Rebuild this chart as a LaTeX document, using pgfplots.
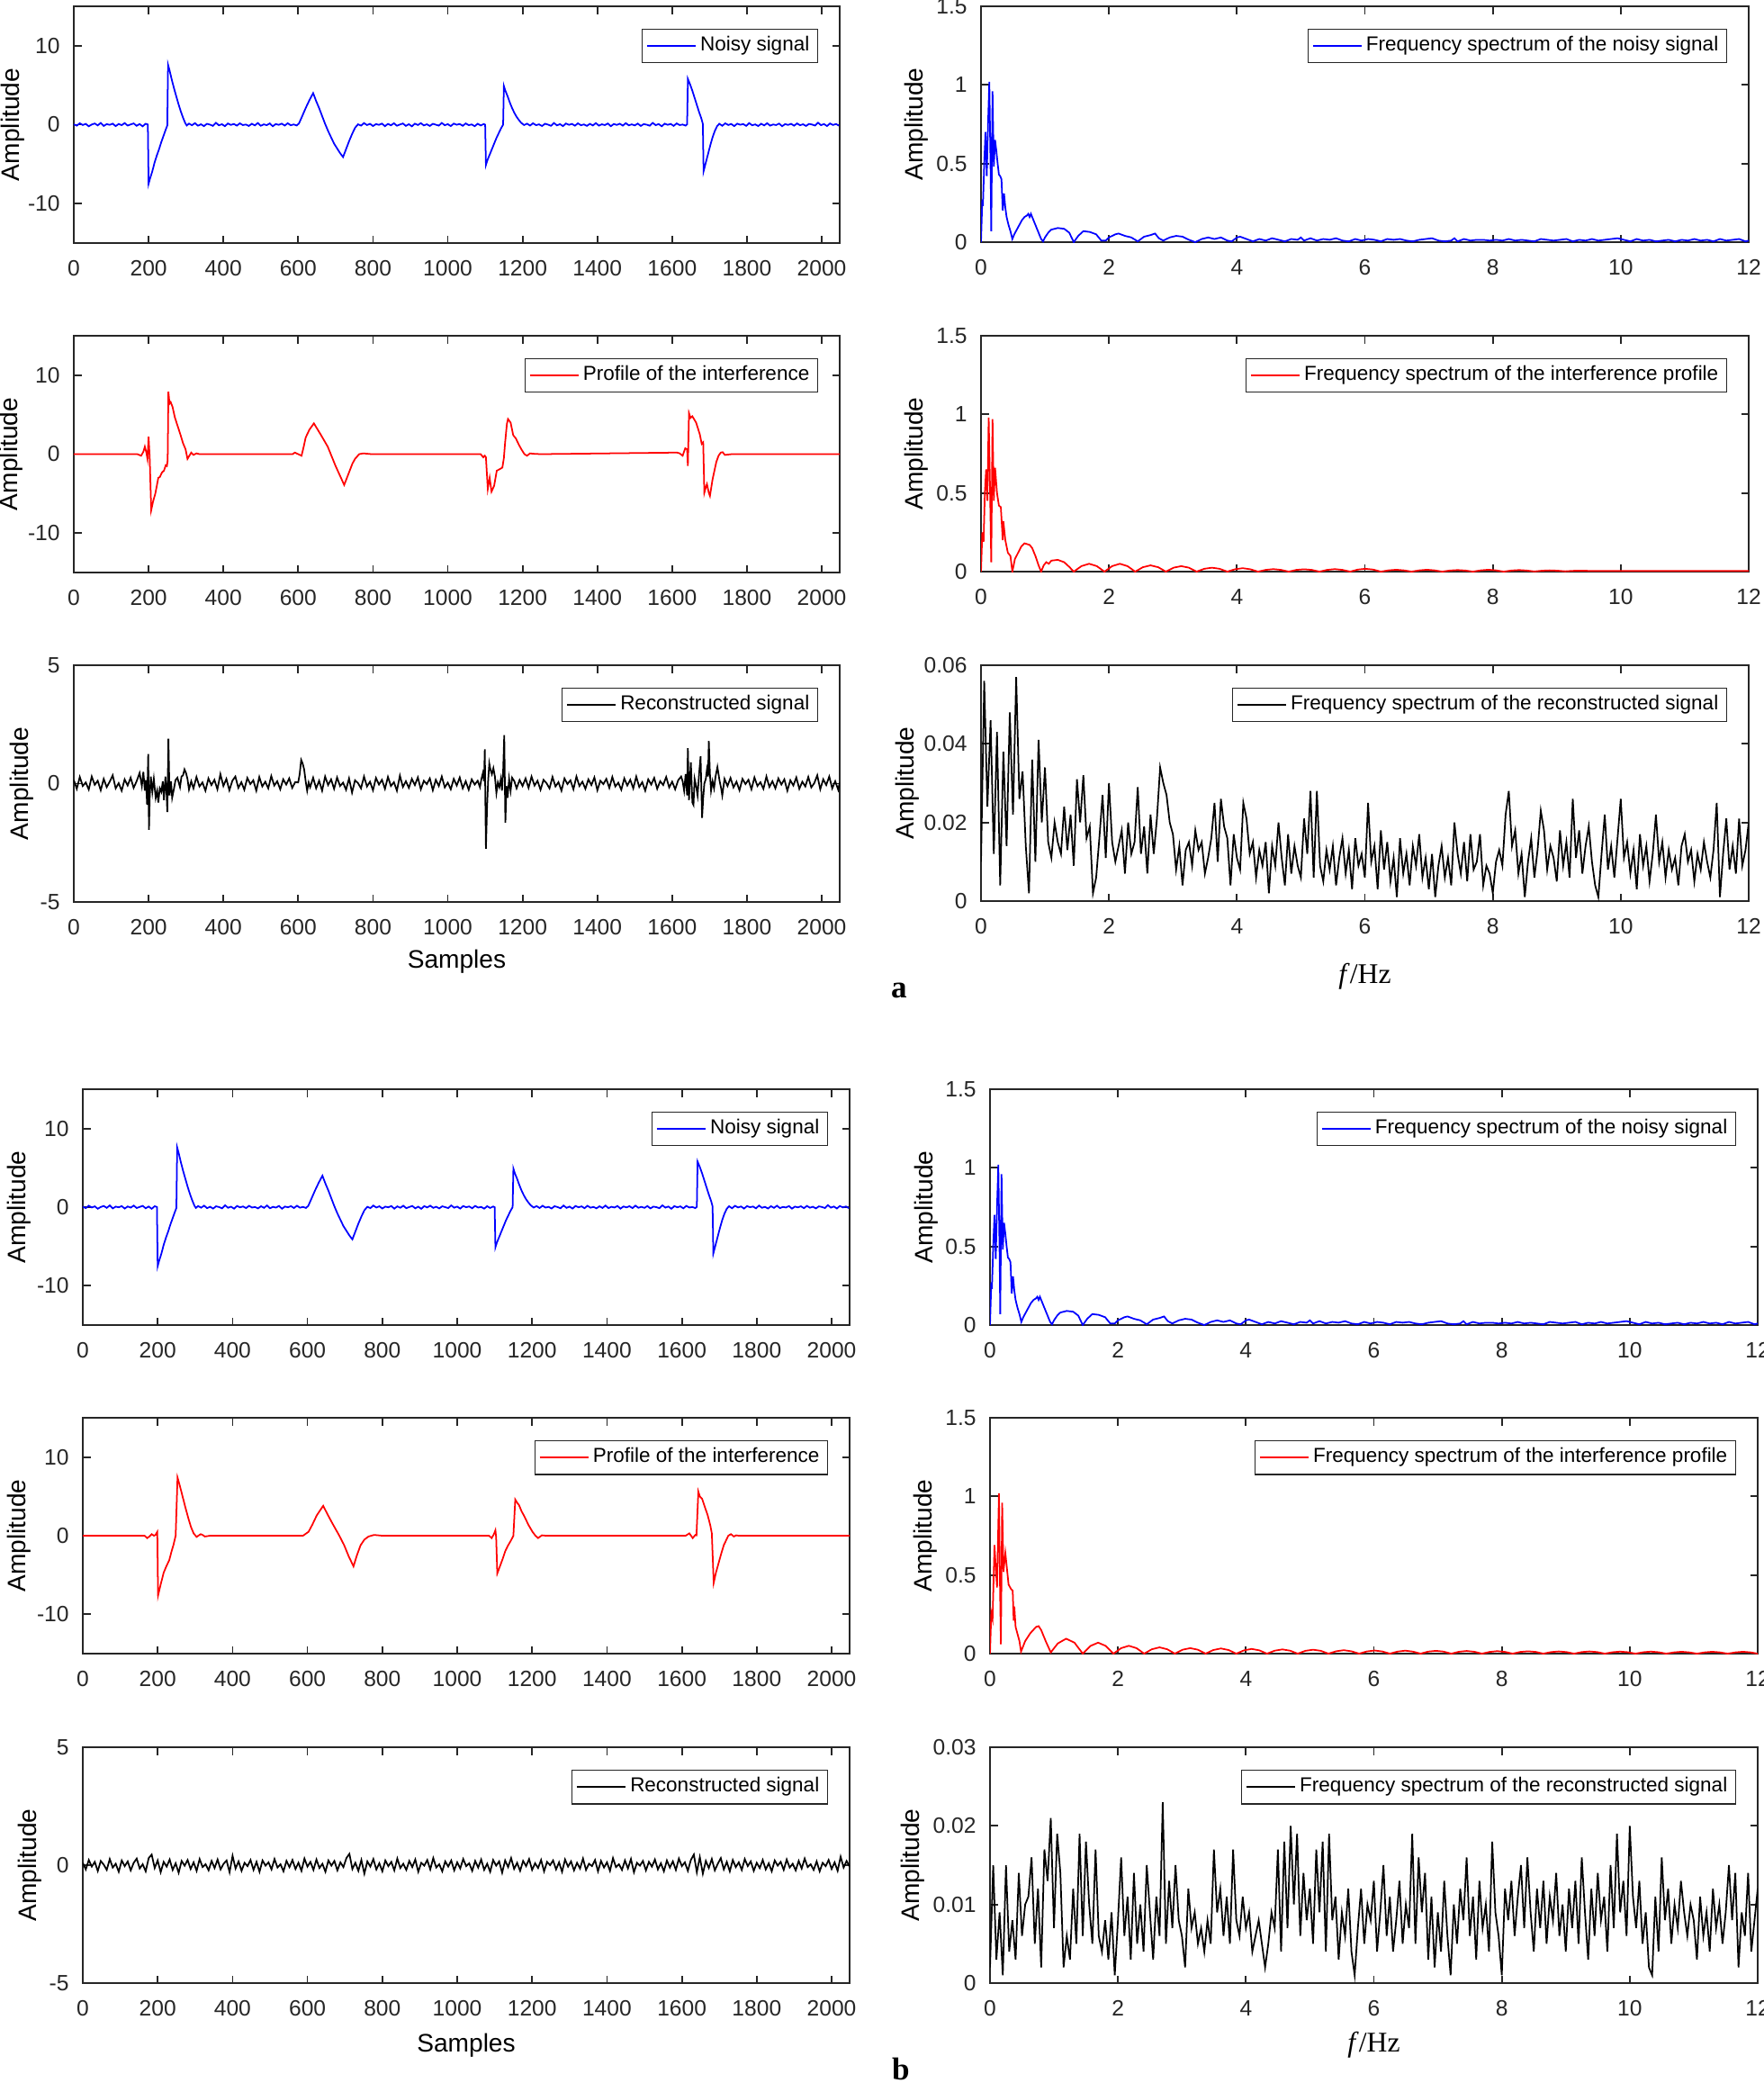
\documentclass[border=0pt]{standalone}
\usepackage{fontspec}
\setmainfont{Liberation Sans}
\newfontfamily\seriffont{Liberation Serif}
\usepackage{pgfplots}
\usepackage{pgfplotstable}
\pgfplotsset{compat=1.18}
\definecolor{framegray}{gray}{0.15}

% time signals (samples)
\pgfplotstableread[row sep=\\]{x y\\
0 0.05\\ 8 -0.12\\ 16 0.18\\ 24 -0.04\\ 32 0.10\\ 40 -0.20\\ 48 0.02\\ 56 0.15\\ 64 -0.09\\ 72 0.22\\
80 -0.16\\ 88 0.07\\ 96 -0.02\\ 104 0.13\\ 112 -0.18\\ 120 0.09\\ 128 -0.06\\ 136 0.20\\ 144 -0.11\\ 152 0.03\\
160 0.16\\ 168 -0.14\\ 176 0.08\\ 184 -0.21\\ 192 0.12\\ 198 0.02\\ 200 -7.5\\ 204 -6.8\\ 210 -5.9\\ 216 -4.8\\
222 -3.9\\ 228 -3.1\\ 234 -2.2\\ 240 -1.4\\ 246 -0.6\\ 250 -0.1\\ 252 7.6\\ 256 6.9\\ 262 5.7\\ 268 4.6\\
274 3.6\\ 280 2.6\\ 286 1.7\\ 292 0.9\\ 298 0.2\\ 302 -0.1\\ 308 0.14\\ 316 -0.07\\ 324 0.19\\ 332 -0.13\\
340 0.05\\ 348 -0.18\\ 356 0.11\\ 364 0.01\\ 372 -0.15\\ 380 0.24\\ 388 -0.08\\ 396 0.06\\ 404 -0.19\\ 412 0.15\\
420 -0.03\\ 428 0.09\\ 436 -0.12\\ 444 0.17\\ 452 -0.05\\ 460 0.02\\ 468 -0.16\\ 476 0.12\\ 484 -0.09\\ 492 0.21\\
500 -0.14\\ 508 0.04\\ 516 -0.06\\ 524 0.16\\ 532 -0.20\\ 540 0.08\\ 548 -0.02\\ 556 0.13\\ 564 -0.11\\ 572 0.18\\
580 -0.07\\ 588 0.03\\ 596 -0.10\\ 602 0.15\\ 610 1.0\\ 620 2.1\\ 630 3.1\\ 640 4.0\\ 648 3.0\\ 656 2.1\\
664 1.1\\ 672 0.1\\ 680 -0.8\\ 688 -1.6\\ 696 -2.4\\ 704 -3.0\\ 712 -3.6\\ 720 -4.1\\ 728 -3.1\\ 736 -2.1\\
744 -1.2\\ 752 -0.4\\ 760 0.05\\ 768 -0.12\\ 776 0.20\\ 784 -0.05\\ 792 0.11\\ 800 -0.17\\ 808 0.07\\ 816 -0.02\\
824 0.14\\ 832 -0.19\\ 840 0.10\\ 848 -0.08\\ 856 0.18\\ 864 -0.13\\ 872 0.02\\ 880 0.15\\ 888 -0.15\\ 896 0.06\\
904 -0.21\\ 912 0.13\\ 920 -0.04\\ 928 0.19\\ 936 -0.09\\ 944 0.05\\ 952 -0.16\\ 960 0.11\\ 968 0.0\\ 976 -0.12\\
984 0.22\\ 992 -0.07\\ 1000 0.07\\ 1008 -0.18\\ 1016 0.14\\ 1024 -0.01\\ 1032 0.09\\ 1040 -0.14\\ 1048 0.16\\ 1056 -0.06\\
1064 0.03\\ 1072 -0.19\\ 1080 0.12\\ 1088 -0.10\\ 1096 0.08\\ 1100 0.0\\ 1102 -5.1\\ 1106 -4.5\\ 1112 -3.8\\ 1118 -3.1\\
1124 -2.4\\ 1130 -1.7\\ 1136 -1.1\\ 1142 -0.5\\ 1148 0.0\\ 1150 4.9\\ 1154 4.3\\ 1160 3.6\\ 1166 2.8\\ 1172 2.1\\
1178 1.5\\ 1184 1.0\\ 1190 0.6\\ 1196 0.25\\ 1204 -0.05\\ 1212 0.13\\ 1220 -0.11\\ 1228 0.18\\ 1236 -0.06\\ 1244 0.04\\
1252 -0.17\\ 1260 0.12\\ 1268 0.01\\ 1276 -0.14\\ 1284 0.21\\ 1292 -0.09\\ 1300 0.07\\ 1308 -0.18\\ 1316 0.15\\ 1324 -0.02\\
1332 0.10\\ 1340 -0.13\\ 1348 0.17\\ 1356 -0.07\\ 1364 0.03\\ 1372 -0.15\\ 1380 0.11\\ 1388 -0.10\\ 1396 0.20\\ 1404 -0.12\\
1412 0.05\\ 1420 -0.05\\ 1428 0.15\\ 1436 -0.19\\ 1444 0.09\\ 1452 -0.03\\ 1460 0.12\\ 1468 -0.12\\ 1476 0.19\\ 1484 -0.08\\
1492 0.04\\ 1500 -0.09\\ 1508 0.14\\ 1516 -0.16\\ 1524 0.07\\ 1532 0.0\\ 1540 -0.13\\ 1548 0.23\\ 1556 -0.06\\ 1564 0.08\\
1572 -0.20\\ 1580 0.13\\ 1588 -0.02\\ 1596 0.10\\ 1604 -0.15\\ 1612 0.16\\ 1620 -0.05\\ 1628 0.02\\ 1636 -0.12\\ 1640 0.05\\
1642 5.8\\ 1648 5.1\\ 1654 4.3\\ 1660 3.4\\ 1666 2.5\\ 1672 1.6\\ 1678 0.8\\ 1682 0.1\\ 1684 -5.9\\ 1690 -4.8\\
1696 -3.7\\ 1702 -2.6\\ 1708 -1.6\\ 1714 -0.8\\ 1720 -0.2\\ 1726 0.12\\ 1734 -0.14\\ 1742 0.17\\ 1750 -0.04\\ 1758 0.09\\
1766 -0.18\\ 1774 0.13\\ 1782 -0.01\\ 1790 0.08\\ 1798 -0.15\\ 1806 0.20\\ 1814 -0.08\\ 1822 0.04\\ 1830 -0.17\\ 1838 0.12\\
1846 -0.09\\ 1854 0.18\\ 1862 -0.12\\ 1870 0.03\\ 1878 -0.05\\ 1886 0.14\\ 1894 -0.19\\ 1902 0.07\\ 1910 -0.03\\ 1918 0.11\\
1926 -0.13\\ 1934 0.16\\ 1942 -0.07\\ 1950 0.05\\ 1958 -0.16\\ 1966 0.10\\ 1974 0.02\\ 1982 -0.11\\ 1990 0.25\\ 1998 -0.06\\
2006 0.08\\ 2014 -0.17\\ 2022 0.15\\ 2030 -0.04\\ 2038 0.09\\ 2046 -0.12\\
}\tnoisy

\pgfplotstableread[row sep=\\]{x y\\
0 0\\ 170 0\\ 180 -0.2\\ 186 0.3\\ 190 0.95\\ 194 0.2\\ 197 -0.6\\ 200 2.2\\ 203 -0.5\\ 207 -7.1\\
212 -6.0\\ 218 -5.0\\ 226 -3.0\\ 230 -2.9\\ 236 -2.3\\ 241 -2.1\\ 246 -1.4\\ 249 -1.5\\ 251 -0.8\\ 253 7.9\\
256 6.4\\ 259 6.6\\ 264 6.0\\ 270 4.7\\ 276 3.8\\ 285 2.5\\ 292 1.4\\ 299 0.6\\ 304 -0.6\\ 309 -0.2\\
314 0.2\\ 320 -0.1\\ 328 0.1\\ 336 0\\ 585 0\\ 591 0.2\\ 600 0.0\\ 609 -0.2\\ 615 1.0\\ 620 2.1\\
630 3.1\\ 642 3.9\\ 660 2.5\\ 679 0.95\\ 700 -1.5\\ 723 -3.9\\ 732 -2.8\\ 745 -1.2\\ 752 -0.6\\ 763 0.0\\
774 0.1\\ 796 0\\ 1088 0\\ 1095 -0.4\\ 1099 -0.2\\ 1102 -0.4\\ 1107 -4.4\\ 1112 -3.0\\ 1117 -4.75\\ 1124 -4.0\\
1131 -2.1\\ 1139 -1.9\\ 1146 -1.7\\ 1150 -0.5\\ 1153 1.3\\ 1158 3.8\\ 1161 4.45\\ 1168 4.0\\ 1175 2.4\\ 1182 2.0\\
1190 1.2\\ 1197 0.6\\ 1205 0.0\\ 1212 -0.2\\ 1220 0.1\\ 1228 0.05\\ 1248 0\\ 1613 0.2\\ 1620 0.1\\ 1628 -0.2\\
1635 0.75\\ 1640 0.6\\ 1642 -1.5\\ 1645 5.2\\ 1649 4.6\\ 1654 4.8\\ 1664 4.0\\ 1674 2.5\\ 1679 1.3\\ 1683 1.5\\
1686 -4.9\\ 1690 -4.2\\ 1693 -3.8\\ 1698 -4.9\\ 1701 -5.3\\ 1708 -3.2\\ 1718 -1.0\\ 1724 -0.2\\ 1730 0.2\\ 1735 0.25\\
1741 -0.1\\ 1759 0\\ 2048 0\\
}\tprofA

\pgfplotstableread[row sep=\\]{x y\\
0 0\\ 165 0\\ 172 -0.3\\ 178 -0.1\\ 184 0.2\\ 190 0.0\\ 194 0.1\\ 199 0.5\\ 201 -7.6\\ 208 -6.2\\
216 -4.7\\ 223 -3.9\\ 231 -3.1\\ 237 -2.0\\ 242 -1.2\\ 248 0.0\\ 253 7.4\\ 256 6.9\\ 260 6.2\\ 267 4.9\\
274 3.6\\ 282 2.2\\ 289 1.1\\ 296 0.3\\ 304 -0.15\\ 310 0.05\\ 315 0.2\\ 320 0.1\\ 326 -0.1\\ 340 0\\
588 0\\ 603 0.5\\ 613 1.4\\ 625 2.6\\ 642 3.8\\ 655 2.6\\ 668 1.45\\ 684 0.1\\ 698 -1.2\\ 710 -2.6\\
723 -3.9\\ 732 -2.5\\ 742 -1.2\\ 752 -0.5\\ 763 -0.1\\ 778 0.1\\ 800 0\\ 1085 0\\ 1092 -0.3\\ 1098 0.2\\
1102 0.7\\ 1104 -0.2\\ 1107 -4.8\\ 1114 -3.9\\ 1121 -3.0\\ 1128 -2.0\\ 1135 -1.3\\ 1143 -0.65\\ 1150 0.0\\ 1155 4.6\\
1160 4.2\\ 1165 3.9\\ 1172 3.1\\ 1180 2.4\\ 1190 1.4\\ 1201 0.5\\ 1209 0.0\\ 1216 -0.3\\ 1226 0.05\\ 1238 0\\
1610 0\\ 1620 0.3\\ 1629 -0.3\\ 1636 0.1\\ 1639 0.05\\ 1644 5.6\\ 1648 5.0\\ 1654 4.7\\ 1661 3.7\\ 1669 2.6\\
1676 1.3\\ 1680 0.3\\ 1685 -6.0\\ 1691 -4.7\\ 1698 -3.5\\ 1705 -2.3\\ 1712 -1.2\\ 1718 -0.6\\ 1724 0.0\\ 1731 0.2\\
1739 -0.1\\ 1745 0.05\\ 1752 0\\ 2048 0\\
}\tprofB

\pgfplotstableread[row sep=\\]{x y\\
0 0.15\\ 8 -0.22\\ 16 0.28\\ 24 -0.10\\ 32 0.05\\ 40 -0.25\\ 48 0.30\\ 56 -0.05\\ 64 0.12\\ 72 -0.28\\
80 0.20\\ 88 -0.15\\ 96 0.08\\ 104 0.35\\ 112 -0.20\\ 120 0.02\\ 128 -0.30\\ 136 0.18\\ 144 -0.08\\ 152 0.25\\
160 -0.18\\ 168 0.10\\ 176 0.45\\ 182 -0.10\\ 186 0.50\\ 190 -0.30\\ 193 0.15\\ 196 -0.9\\ 199 1.25\\ 201 -1.95\\
203 -0.6\\ 206 0.30\\ 210 -0.35\\ 214 0.20\\ 219 -0.60\\ 223 -0.30\\ 226 -0.80\\ 230 -0.20\\ 234 -0.35\\ 238 0.10\\
241 -0.70\\ 245 0.30\\ 248 -0.40\\ 250 -1.20\\ 253 1.90\\ 256 -0.50\\ 260 0.10\\ 263 -0.60\\ 268 -0.20\\ 272 0.15\\
277 0.25\\ 284 -0.15\\ 288 0.30\\ 292 0.35\\ 296 0.60\\ 300 0.45\\ 304 0.20\\ 308 -0.25\\ 314 0.10\\ 320 -0.20\\
328 0.28\\ 336 -0.12\\ 344 0.05\\ 352 -0.30\\ 360 0.22\\ 368 -0.06\\ 376 0.16\\ 384 -0.24\\ 392 0.40\\ 400 -0.10\\
408 0.20\\ 416 -0.28\\ 424 0.12\\ 432 0.30\\ 440 -0.18\\ 448 0.06\\ 456 -0.26\\ 464 0.24\\ 472 -0.02\\ 480 0.14\\
488 -0.30\\ 496 0.28\\ 504 -0.12\\ 512 0.08\\ 520 -0.20\\ 528 0.32\\ 536 -0.08\\ 544 0.10\\ 552 -0.24\\ 560 0.18\\
568 -0.04\\ 576 0.22\\ 584 -0.18\\ 592 0.06\\ 600 0.05\\ 604 0.40\\ 608 1.00\\ 612 0.85\\ 616 0.60\\ 620 0.10\\
624 -0.30\\ 628 0.05\\ 632 -0.15\\ 640 0.25\\ 648 -0.20\\ 656 0.12\\ 664 -0.30\\ 672 0.30\\ 680 -0.06\\ 688 0.18\\
696 -0.22\\ 704 0.26\\ 712 -0.10\\ 720 0.04\\ 728 -0.26\\ 736 0.22\\ 744 -0.38\\ 752 0.14\\ 760 0.02\\ 768 -0.20\\
776 0.30\\ 784 -0.12\\ 792 0.08\\ 800 -0.28\\ 808 0.24\\ 816 -0.04\\ 824 0.16\\ 832 -0.22\\ 840 0.28\\ 848 -0.10\\
856 0.06\\ 864 -0.30\\ 872 0.34\\ 880 -0.14\\ 888 0.10\\ 896 -0.18\\ 904 0.20\\ 912 -0.06\\ 920 0.26\\ 928 -0.24\\
936 0.12\\ 944 -0.02\\ 952 0.22\\ 960 -0.28\\ 968 0.16\\ 976 -0.10\\ 984 0.30\\ 992 -0.16\\ 1000 0.04\\ 1008 -0.24\\
1016 0.20\\ 1024 -0.08\\ 1032 0.26\\ 1040 -0.20\\ 1048 0.10\\ 1056 -0.26\\ 1064 0.18\\ 1072 -0.04\\ 1080 0.12\\ 1086 -0.15\\
1090 0.20\\ 1094 0.45\\ 1097 0.10\\ 1099 1.45\\ 1102 -2.75\\ 1105 -1.00\\ 1108 0.15\\ 1111 0.85\\ 1114 0.60\\ 1118 0.40\\
1122 0.65\\ 1126 0.30\\ 1130 -0.40\\ 1134 0.05\\ 1138 -0.15\\ 1142 0.20\\ 1145 -0.30\\ 1148 0.50\\ 1151 2.05\\ 1154 -1.65\\
1157 -0.10\\ 1160 -0.60\\ 1164 0.20\\ 1168 -0.30\\ 1172 0.25\\ 1178 0.10\\ 1184 -0.20\\ 1192 0.15\\ 1200 -0.10\\ 1208 0.22\\
1216 -0.18\\ 1224 0.30\\ 1232 -0.08\\ 1240 0.12\\ 1248 -0.26\\ 1256 0.16\\ 1264 0.02\\ 1272 -0.20\\ 1280 0.28\\ 1288 -0.12\\
1296 0.06\\ 1304 -0.30\\ 1312 0.22\\ 1320 -0.02\\ 1328 0.14\\ 1336 -0.24\\ 1344 0.30\\ 1352 -0.10\\ 1360 0.08\\ 1368 -0.22\\
1376 0.18\\ 1384 -0.06\\ 1392 0.26\\ 1400 -0.28\\ 1408 0.12\\ 1416 -0.02\\ 1424 0.20\\ 1432 -0.18\\ 1440 0.28\\ 1448 -0.12\\
1456 0.04\\ 1464 -0.26\\ 1472 0.22\\ 1480 -0.08\\ 1488 0.16\\ 1496 -0.20\\ 1504 0.30\\ 1512 -0.14\\ 1520 0.06\\ 1528 -0.30\\
1536 0.18\\ 1544 -0.04\\ 1552 0.24\\ 1560 -0.22\\ 1568 0.10\\ 1576 -0.06\\ 1584 0.28\\ 1592 -0.16\\ 1600 0.08\\ 1608 -0.24\\
1616 0.14\\ 1624 0.30\\ 1628 0.10\\ 1632 -0.30\\ 1636 0.40\\ 1640 -0.50\\ 1642 1.50\\ 1645 -0.70\\ 1648 0.30\\ 1650 0.90\\
1654 -0.80\\ 1657 -0.90\\ 1660 0.20\\ 1664 -0.10\\ 1668 -0.50\\ 1672 0.40\\ 1676 1.15\\ 1680 -1.45\\ 1683 -0.60\\ 1686 0.00\\
1690 0.20\\ 1693 0.60\\ 1696 0.30\\ 1698 1.80\\ 1701 0.40\\ 1704 -0.30\\ 1708 0.10\\ 1712 -0.20\\ 1716 0.30\\ 1721 0.70\\
1724 0.40\\ 1727 0.10\\ 1731 -0.20\\ 1734 -0.50\\ 1740 0.20\\ 1748 -0.10\\ 1756 0.24\\ 1764 -0.16\\ 1772 0.08\\ 1780 -0.28\\
1788 0.20\\ 1796 -0.02\\ 1804 0.16\\ 1812 -0.24\\ 1820 0.26\\ 1828 -0.10\\ 1836 0.06\\ 1844 -0.22\\ 1852 0.30\\ 1860 -0.14\\
1868 0.10\\ 1876 -0.20\\ 1884 0.22\\ 1892 -0.04\\ 1900 0.18\\ 1908 -0.30\\ 1916 0.14\\ 1924 -0.08\\ 1932 0.26\\ 1940 -0.22\\
1948 0.08\\ 1956 -0.12\\ 1964 0.28\\ 1972 -0.16\\ 1980 0.02\\ 1988 0.35\\ 1996 -0.24\\ 2004 0.18\\ 2012 -0.06\\ 2020 0.30\\
2028 -0.20\\ 2036 0.10\\ 2044 -0.26\\ 2048 0.05\\
}\trecA

\pgfplotstableread[row sep=\\]{x y\\
0 0.10\\ 8 -0.18\\ 16 0.22\\ 24 -0.06\\ 32 0.14\\ 40 -0.25\\ 48 0.18\\ 56 0.02\\ 64 -0.20\\ 72 0.26\\
80 -0.10\\ 88 0.06\\ 96 -0.28\\ 104 0.20\\ 112 -0.04\\ 120 0.16\\ 128 -0.22\\ 136 0.10\\ 144 0.28\\ 152 -0.14\\
160 0.04\\ 168 -0.26\\ 176 0.30\\ 184 0.45\\ 192 -0.12\\ 200 0.20\\ 208 -0.30\\ 216 0.14\\ 224 -0.06\\ 232 0.24\\
240 -0.20\\ 248 0.08\\ 256 -0.32\\ 264 0.18\\ 272 -0.02\\ 280 0.22\\ 288 -0.16\\ 296 0.12\\ 304 -0.24\\ 312 0.26\\
320 -0.08\\ 328 0.04\\ 336 -0.22\\ 344 0.18\\ 352 -0.12\\ 360 0.24\\ 368 -0.18\\ 376 0.06\\ 384 0.20\\ 392 -0.30\\
400 0.40\\ 408 -0.14\\ 416 0.16\\ 424 -0.24\\ 432 0.10\\ 440 -0.04\\ 448 0.22\\ 456 -0.20\\ 464 0.14\\ 472 -0.28\\
480 0.20\\ 488 -0.02\\ 496 0.12\\ 504 -0.18\\ 512 0.26\\ 520 -0.10\\ 528 0.04\\ 536 -0.26\\ 544 0.18\\ 552 -0.08\\
560 0.22\\ 568 -0.16\\ 576 0.10\\ 584 -0.24\\ 592 0.28\\ 600 -0.06\\ 608 0.14\\ 616 -0.20\\ 624 0.24\\ 632 -0.12\\
640 0.06\\ 648 -0.28\\ 656 0.20\\ 664 -0.02\\ 672 0.18\\ 680 -0.22\\ 688 0.12\\ 696 -0.08\\ 704 0.30\\ 712 0.48\\
720 -0.16\\ 728 0.10\\ 736 -0.24\\ 744 0.22\\ 752 -0.36\\ 760 0.16\\ 768 -0.06\\ 776 0.26\\ 784 -0.18\\ 792 0.08\\
800 -0.26\\ 808 0.20\\ 816 -0.04\\ 824 0.14\\ 832 -0.22\\ 840 0.28\\ 848 -0.12\\ 856 0.06\\ 864 -0.20\\ 872 0.18\\
880 -0.08\\ 888 0.24\\ 896 -0.28\\ 904 0.10\\ 912 -0.02\\ 920 0.22\\ 928 -0.18\\ 936 0.30\\ 944 -0.10\\ 952 0.04\\
960 -0.26\\ 968 0.16\\ 976 -0.06\\ 984 0.20\\ 992 -0.22\\ 1000 0.12\\ 1008 -0.14\\ 1016 0.26\\ 1024 -0.04\\ 1032 0.08\\
1040 -0.24\\ 1048 0.18\\ 1056 -0.10\\ 1064 0.24\\ 1072 -0.20\\ 1080 0.06\\ 1088 -0.28\\ 1096 0.22\\ 1104 -0.02\\ 1112 0.16\\
1120 -0.32\\ 1128 0.20\\ 1136 -0.08\\ 1144 0.30\\ 1152 -0.16\\ 1160 0.10\\ 1168 -0.24\\ 1176 0.18\\ 1184 -0.04\\ 1192 0.26\\
1200 -0.20\\ 1208 0.08\\ 1216 -0.12\\ 1224 0.22\\ 1232 -0.26\\ 1240 0.14\\ 1248 0.00\\ 1256 0.20\\ 1264 -0.18\\ 1272 0.12\\
1280 -0.28\\ 1288 0.24\\ 1296 -0.06\\ 1304 0.16\\ 1312 -0.22\\ 1320 0.10\\ 1328 -0.14\\ 1336 0.28\\ 1344 -0.20\\ 1352 0.06\\
1360 -0.04\\ 1368 0.22\\ 1376 -0.26\\ 1384 0.18\\ 1392 -0.10\\ 1400 0.12\\ 1408 -0.24\\ 1416 0.30\\ 1424 -0.08\\ 1432 0.04\\
1440 -0.20\\ 1448 0.20\\ 1456 -0.14\\ 1464 0.26\\ 1472 -0.30\\ 1480 0.10\\ 1488 -0.02\\ 1496 0.18\\ 1504 -0.22\\ 1512 0.14\\
1520 -0.06\\ 1528 0.24\\ 1536 -0.18\\ 1544 0.08\\ 1552 -0.26\\ 1560 0.20\\ 1568 -0.10\\ 1576 0.16\\ 1584 -0.20\\ 1592 0.28\\
1600 -0.04\\ 1608 0.12\\ 1616 -0.24\\ 1624 0.22\\ 1632 0.45\\ 1640 -0.30\\ 1648 0.34\\ 1656 -0.36\\ 1664 0.18\\ 1672 -0.12\\
1680 0.26\\ 1688 -0.22\\ 1696 0.06\\ 1704 0.30\\ 1712 -0.18\\ 1720 0.14\\ 1728 -0.26\\ 1736 0.22\\ 1744 -0.08\\ 1752 0.12\\
1760 -0.20\\ 1768 0.26\\ 1776 -0.04\\ 1784 0.16\\ 1792 -0.24\\ 1800 0.10\\ 1808 -0.12\\ 1816 0.22\\ 1824 -0.18\\ 1832 0.08\\
1840 -0.26\\ 1848 0.20\\ 1856 -0.02\\ 1864 0.14\\ 1872 -0.20\\ 1880 0.24\\ 1888 -0.10\\ 1896 0.06\\ 1904 -0.22\\ 1912 0.18\\
1920 -0.14\\ 1928 0.28\\ 1936 -0.08\\ 1944 0.04\\ 1952 -0.20\\ 1960 0.16\\ 1968 -0.26\\ 1976 0.10\\ 1984 -0.04\\ 1992 0.22\\
2000 -0.16\\ 2008 0.12\\ 2016 -0.24\\ 2024 0.36\\ 2032 -0.10\\ 2040 0.18\\ 2048 -0.06\\
}\trecB

% spectra (Hz)
\pgfplotstableread[row sep=\\]{x y\\
0 0\\ 0.02 0.27\\ 0.03 0.23\\ 0.05 0.5\\ 0.07 0.7\\ 0.09 0.42\\ 0.11 0.75\\ 0.13 1.02\\ 0.15 0.45\\ 0.16 0.07\\
0.18 0.96\\ 0.20 0.48\\ 0.22 0.65\\ 0.24 0.58\\ 0.26 0.5\\ 0.28 0.43\\ 0.30 0.42\\ 0.32 0.4\\ 0.34 0.2\\ 0.36 0.31\\
0.38 0.22\\ 0.40 0.16\\ 0.43 0.11\\ 0.46 0.07\\ 0.49 0.02\\ 0.52 0.05\\ 0.56 0.08\\ 0.60 0.11\\ 0.64 0.14\\ 0.68 0.16\\
0.72 0.17\\ 0.74 0.18\\ 0.76 0.16\\ 0.78 0.18\\ 0.82 0.14\\ 0.86 0.10\\ 0.90 0.06\\ 0.94 0.02\\ 0.97 0.005\\ 1.00 0.03\\
1.05 0.06\\ 1.10 0.08\\ 1.20 0.09\\ 1.30 0.085\\ 1.38 0.06\\ 1.45 0.0\\ 1.52 0.04\\ 1.60 0.07\\ 1.70 0.065\\ 1.80 0.05\\
1.88 0.01\\ 1.95 0.01\\ 2.00 0.03\\ 2.10 0.05\\ 2.15 0.055\\ 2.25 0.04\\ 2.35 0.03\\ 2.45 0.005\\ 2.55 0.035\\ 2.65 0.045\\
2.72 0.055\\ 2.78 0.025\\ 2.85 0.01\\ 2.95 0.03\\ 3.05 0.04\\ 3.15 0.035\\ 3.25 0.015\\ 3.35 0.0\\ 3.45 0.02\\ 3.55 0.03\\
3.65 0.02\\ 3.75 0.03\\ 3.85 0.01\\ 3.92 0.005\\ 4.00 0.03\\ 4.05 0.035\\ 4.15 0.02\\ 4.25 0.005\\ 4.35 0.02\\ 4.45 0.01\\
4.55 0.025\\ 4.65 0.015\\ 4.75 0.005\\ 4.85 0.02\\ 4.95 0.015\\ 5.00 0.03\\ 5.05 0.01\\ 5.15 0.025\\ 5.25 0.01\\ 5.35 0.02\\
5.45 0.015\\ 5.55 0.025\\ 5.65 0.01\\ 5.75 0.005\\ 5.85 0.02\\ 5.95 0.01\\ 6.05 0.02\\ 6.15 0.015\\ 6.25 0.005\\ 6.35 0.02\\
6.45 0.015\\ 6.55 0.02\\ 6.65 0.01\\ 6.75 0.005\\ 6.85 0.015\\ 6.95 0.02\\ 7.05 0.025\\ 7.15 0.01\\ 7.25 0.005\\ 7.35 0.01\\
7.40 0.025\\ 7.45 0.005\\ 7.55 0.02\\ 7.65 0.01\\ 7.75 0.015\\ 7.85 0.015\\ 7.95 0.01\\ 8.05 0.015\\ 8.15 0.01\\ 8.25 0.02\\
8.35 0.01\\ 8.45 0.015\\ 8.55 0.01\\ 8.65 0.005\\ 8.75 0.02\\ 8.85 0.015\\ 8.95 0.01\\ 9.05 0.015\\ 9.15 0.02\\ 9.25 0.005\\
9.35 0.015\\ 9.45 0.01\\ 9.55 0.02\\ 9.65 0.01\\ 9.75 0.015\\ 9.85 0.02\\ 9.95 0.025\\ 10.05 0.015\\ 10.15 0.005\\ 10.25 0.02\\
10.35 0.01\\ 10.45 0.015\\ 10.55 0.005\\ 10.65 0.01\\ 10.75 0.015\\ 10.85 0.005\\ 10.95 0.015\\ 11.05 0.01\\ 11.15 0.02\\ 11.25 0.01\\
11.35 0.015\\ 11.45 0.005\\ 11.55 0.02\\ 11.65 0.01\\ 11.75 0.015\\ 11.85 0.02\\ 11.95 0.005\\ 12.00 0.01\\
}\fnoisy

\pgfplotstableread[row sep=\\]{x y\\
0 0\\ 0.02 0.25\\ 0.04 0.19\\ 0.06 0.5\\ 0.08 0.65\\ 0.10 0.45\\ 0.12 0.98\\ 0.14 0.55\\ 0.16 0.06\\ 0.18 0.97\\
0.20 0.45\\ 0.22 0.66\\ 0.25 0.5\\ 0.28 0.42\\ 0.31 0.41\\ 0.34 0.2\\ 0.35 0.32\\ 0.38 0.2\\ 0.42 0.12\\ 0.46 0.1\\
0.49 0.0\\ 0.53 0.08\\ 0.58 0.12\\ 0.63 0.16\\ 0.68 0.18\\ 0.72 0.175\\ 0.76 0.17\\ 0.80 0.15\\ 0.85 0.1\\ 0.90 0.04\\
0.94 0.0\\ 0.98 0.04\\ 1.02 0.06\\ 1.06 0.05\\ 1.10 0.07\\ 1.20 0.075\\ 1.30 0.06\\ 1.38 0.03\\
1.45 0\\ 1.57 0.035\\ 1.69 0.05\\ 1.81 0.035\\ 1.93 0\\ 2.05 0.035\\ 2.17 0.05\\ 2.29 0.035\\
2.41 0\\ 2.53 0.028\\ 2.65 0.04\\ 2.77 0.028\\ 2.89 0\\ 3.01 0.025\\ 3.13 0.035\\ 3.25 0.025\\
3.37 0\\ 3.49 0.018\\ 3.61 0.025\\ 3.73 0.018\\ 3.85 0\\ 3.97 0.015\\ 4.09 0.022\\ 4.21 0.015\\
4.33 0\\ 4.45 0.011\\ 4.57 0.016\\ 4.69 0.011\\ 4.81 0\\ 4.93 0.011\\ 5.05 0.015\\ 5.17 0.011\\
5.29 0\\ 5.41 0.011\\ 5.53 0.016\\ 5.65 0.011\\ 5.77 0\\ 5.89 0.013\\ 6.01 0.018\\ 6.13 0.013\\
6.25 0\\ 6.37 0.008\\ 6.49 0.012\\ 6.61 0.008\\ 6.73 0\\ 6.85 0.008\\ 6.97 0.012\\ 7.09 0.008\\
7.21 0\\ 7.33 0.007\\ 7.45 0.01\\ 7.57 0.007\\ 7.69 0\\ 7.81 0.008\\ 7.93 0.012\\ 8.05 0.008\\
8.17 0\\ 8.29 0.007\\ 8.41 0.01\\ 8.53 0.007\\ 8.65 0.001\\ 8.77 0.006\\ 8.89 0.008\\ 9.01 0.006\\
9.13 0.002\\ 9.25 0.005\\ 9.37 0.006\\ 9.49 0.005\\ 9.61 0.004\\ 10 0.005\\ 10.5 0.005\\ 11 0.005\\ 11.5 0.005\\ 12 0.005\\
}\fprofA

\pgfplotstableread[row sep=\\]{x y\\
0 0\\ 0.02 0.26\\ 0.04 0.22\\ 0.07 0.69\\ 0.09 0.55\\ 0.11 0.42\\ 0.14 1.02\\ 0.156 0.44\\ 0.17 0.06\\ 0.19 0.96\\
0.21 0.52\\ 0.24 0.64\\ 0.29 0.44\\ 0.33 0.41\\ 0.355 0.4\\ 0.37 0.21\\ 0.38 0.3\\ 0.40 0.17\\ 0.46 0.08\\ 0.485 0.013\\
0.55 0.08\\ 0.63 0.13\\ 0.72 0.17\\ 0.76 0.175\\ 0.80 0.15\\ 0.87 0.08\\ 0.95 0.008\\ 1.06 0.065\\ 1.19 0.095\\ 1.32 0.07\\
1.45 0\\ 1.57 0.049\\ 1.69 0.07\\ 1.81 0.049\\ 1.93 0\\ 2.05 0.035\\ 2.17 0.05\\ 2.29 0.035\\
2.41 0\\ 2.53 0.028\\ 2.65 0.04\\ 2.77 0.028\\ 2.89 0\\ 3.01 0.025\\ 3.13 0.035\\ 3.25 0.025\\
3.37 0\\ 3.49 0.023\\ 3.61 0.033\\ 3.73 0.023\\ 3.85 0\\ 3.97 0.021\\ 4.09 0.03\\ 4.21 0.021\\
4.33 0\\ 4.45 0.019\\ 4.57 0.027\\ 4.69 0.019\\ 4.81 0\\ 4.93 0.018\\ 5.05 0.025\\ 5.17 0.018\\
5.29 0\\ 5.41 0.015\\ 5.53 0.022\\ 5.65 0.015\\ 5.77 0\\ 5.89 0.014\\ 6.01 0.02\\ 6.13 0.014\\
6.25 0\\ 6.37 0.013\\ 6.49 0.019\\ 6.61 0.013\\ 6.73 0\\ 6.85 0.013\\ 6.97 0.018\\ 7.09 0.013\\
7.21 0\\ 7.33 0.012\\ 7.45 0.017\\ 7.57 0.012\\ 7.69 0\\ 7.81 0.011\\ 7.93 0.016\\ 8.05 0.011\\
8.17 0\\ 8.29 0.011\\ 8.41 0.015\\ 8.53 0.011\\ 8.65 0\\ 8.77 0.01\\ 8.89 0.014\\ 9.01 0.01\\
9.13 0\\ 9.25 0.01\\ 9.37 0.014\\ 9.49 0.01\\ 9.61 0\\ 9.73 0.009\\ 9.85 0.013\\ 9.97 0.009\\
10.09 0\\ 10.21 0.009\\ 10.33 0.013\\ 10.45 0.009\\ 10.57 0\\ 10.69 0.008\\ 10.81 0.012\\ 10.93 0.008\\
11.05 0\\ 11.17 0.008\\ 11.29 0.012\\ 11.41 0.008\\ 11.53 0\\ 11.65 0.008\\ 11.77 0.012\\ 11.89 0.008\\ 12.0 0\\
}\fprofB

\pgfplotstableread[row sep=\\]{x y\\
0.00 0.010\\ 0.05 0.056\\ 0.10 0.024\\ 0.15 0.046\\ 0.20 0.012\\ 0.25 0.043\\ 0.30 0.004\\ 0.35 0.038\\ 0.40 0.014\\ 0.45 0.048\\
0.50 0.022\\ 0.55 0.057\\ 0.60 0.026\\ 0.65 0.033\\ 0.70 0.014\\ 0.75 0.002\\ 0.80 0.036\\ 0.85 0.010\\ 0.90 0.041\\ 0.95 0.020\\
1.00 0.034\\ 1.05 0.015\\ 1.10 0.011\\ 1.15 0.020\\ 1.20 0.015\\ 1.25 0.012\\ 1.30 0.024\\ 1.35 0.013\\ 1.40 0.022\\ 1.45 0.009\\
1.50 0.031\\ 1.55 0.020\\ 1.60 0.032\\ 1.65 0.016\\ 1.70 0.019\\ 1.75 0.002\\ 1.80 0.006\\ 1.85 0.016\\ 1.90 0.027\\ 1.95 0.011\\
2.00 0.030\\ 2.05 0.015\\ 2.10 0.010\\ 2.15 0.014\\ 2.20 0.018\\ 2.25 0.007\\ 2.30 0.020\\ 2.35 0.012\\ 2.40 0.015\\ 2.45 0.029\\
2.50 0.012\\ 2.55 0.019\\ 2.60 0.007\\ 2.65 0.022\\ 2.70 0.012\\ 2.75 0.021\\ 2.80 0.034\\ 2.85 0.030\\ 2.90 0.027\\ 2.95 0.020\\
3.00 0.017\\ 3.05 0.008\\ 3.10 0.014\\ 3.15 0.004\\ 3.20 0.013\\ 3.25 0.015\\ 3.30 0.009\\ 3.35 0.018\\ 3.40 0.013\\ 3.45 0.015\\
3.50 0.007\\ 3.55 0.011\\ 3.60 0.016\\ 3.65 0.025\\ 3.70 0.010\\ 3.75 0.026\\ 3.80 0.019\\ 3.85 0.016\\ 3.90 0.004\\ 3.95 0.017\\
4.00 0.011\\ 4.05 0.008\\ 4.10 0.025\\ 4.15 0.021\\ 4.20 0.012\\ 4.25 0.015\\ 4.30 0.006\\ 4.35 0.013\\ 4.40 0.009\\ 4.45 0.015\\
4.50 0.002\\ 4.55 0.014\\ 4.60 0.009\\ 4.65 0.020\\ 4.70 0.011\\ 4.75 0.004\\ 4.80 0.017\\ 4.85 0.007\\ 4.90 0.014\\ 4.95 0.009\\
5.00 0.006\\ 5.05 0.021\\ 5.10 0.012\\ 5.15 0.028\\ 5.20 0.006\\ 5.25 0.028\\ 5.30 0.009\\ 5.35 0.005\\ 5.40 0.013\\ 5.45 0.008\\
5.50 0.014\\ 5.55 0.004\\ 5.60 0.011\\ 5.65 0.016\\ 5.70 0.007\\ 5.75 0.013\\ 5.80 0.003\\ 5.85 0.016\\ 5.90 0.009\\ 5.95 0.012\\
6.00 0.006\\ 6.05 0.025\\ 6.10 0.010\\ 6.15 0.014\\ 6.20 0.003\\ 6.25 0.018\\ 6.30 0.008\\ 6.35 0.015\\ 6.40 0.005\\ 6.45 0.011\\
6.50 0.001\\ 6.55 0.016\\ 6.60 0.007\\ 6.65 0.012\\ 6.70 0.004\\ 6.75 0.014\\ 6.80 0.009\\ 6.85 0.017\\ 6.90 0.006\\ 6.95 0.011\\
7.00 0.003\\ 7.05 0.012\\ 7.10 0.001\\ 7.15 0.009\\ 7.20 0.014\\ 7.25 0.006\\ 7.30 0.011\\ 7.35 0.004\\ 7.40 0.020\\ 7.45 0.012\\
7.50 0.007\\ 7.55 0.015\\ 7.60 0.005\\ 7.65 0.017\\ 7.70 0.008\\ 7.75 0.010\\ 7.80 0.017\\ 7.85 0.004\\ 7.90 0.009\\ 7.95 0.007\\
8.00 0.002\\ 8.05 0.010\\ 8.10 0.013\\ 8.15 0.009\\ 8.20 0.022\\ 8.25 0.028\\ 8.30 0.014\\ 8.35 0.018\\ 8.40 0.007\\ 8.45 0.012\\
8.50 0.001\\ 8.55 0.010\\ 8.60 0.016\\ 8.65 0.006\\ 8.70 0.013\\ 8.75 0.023\\ 8.80 0.018\\ 8.85 0.008\\ 8.90 0.014\\ 8.95 0.011\\
9.00 0.005\\ 9.05 0.018\\ 9.10 0.009\\ 9.15 0.015\\ 9.20 0.006\\ 9.25 0.026\\ 9.30 0.011\\ 9.35 0.018\\ 9.40 0.007\\ 9.45 0.014\\
9.50 0.019\\ 9.55 0.010\\ 9.60 0.004\\ 9.65 0.001\\ 9.70 0.012\\ 9.75 0.022\\ 9.80 0.008\\ 9.85 0.014\\ 9.90 0.006\\ 9.95 0.016\\
10.00 0.026\\ 10.05 0.011\\ 10.10 0.015\\ 10.15 0.007\\ 10.20 0.013\\ 10.25 0.003\\ 10.30 0.017\\ 10.35 0.009\\ 10.40 0.014\\ 10.45 0.005\\
10.50 0.012\\ 10.55 0.022\\ 10.60 0.010\\ 10.65 0.015\\ 10.70 0.006\\ 10.75 0.013\\ 10.80 0.008\\ 10.85 0.011\\ 10.90 0.004\\ 10.95 0.014\\
11.00 0.017\\ 11.05 0.010\\ 11.10 0.013\\ 11.15 0.005\\ 11.20 0.012\\ 11.25 0.008\\ 11.30 0.015\\ 11.35 0.010\\ 11.40 0.006\\ 11.45 0.013\\
11.50 0.025\\ 11.55 0.001\\ 11.60 0.012\\ 11.65 0.021\\ 11.70 0.008\\ 11.75 0.014\\ 11.80 0.007\\ 11.85 0.021\\ 11.90 0.009\\ 11.95 0.013\\
12.00 0.020\\
}\frecA

\pgfplotstableread[row sep=\\]{x y\\
0.00 0.002\\ 0.05 0.015\\ 0.10 0.003\\ 0.15 0.009\\ 0.20 0.001\\ 0.25 0.015\\ 0.30 0.004\\ 0.35 0.008\\ 0.40 0.003\\ 0.45 0.014\\
0.50 0.006\\ 0.55 0.010\\ 0.60 0.011\\ 0.65 0.016\\ 0.70 0.005\\ 0.75 0.012\\ 0.80 0.002\\ 0.85 0.017\\ 0.90 0.013\\ 0.95 0.021\\
1.00 0.007\\ 1.05 0.019\\ 1.10 0.014\\ 1.15 0.002\\ 1.20 0.006\\ 1.25 0.003\\ 1.30 0.012\\ 1.35 0.005\\ 1.40 0.019\\ 1.45 0.006\\
1.50 0.018\\ 1.55 0.010\\ 1.60 0.005\\ 1.65 0.017\\ 1.70 0.006\\ 1.75 0.004\\ 1.80 0.008\\ 1.85 0.003\\ 1.90 0.009\\ 1.95 0.001\\
2.00 0.008\\ 2.05 0.016\\ 2.10 0.006\\ 2.15 0.011\\ 2.20 0.003\\ 2.25 0.014\\ 2.30 0.005\\ 2.35 0.010\\ 2.40 0.004\\ 2.45 0.015\\
2.50 0.009\\ 2.55 0.003\\ 2.60 0.011\\ 2.65 0.006\\ 2.70 0.023\\ 2.75 0.005\\ 2.80 0.013\\ 2.85 0.007\\ 2.90 0.015\\ 2.95 0.008\\
3.00 0.006\\ 3.05 0.002\\ 3.10 0.012\\ 3.15 0.007\\ 3.20 0.009\\ 3.25 0.005\\ 3.30 0.007\\ 3.35 0.004\\ 3.40 0.008\\ 3.45 0.005\\
3.50 0.017\\ 3.55 0.009\\ 3.60 0.012\\ 3.65 0.006\\ 3.70 0.011\\ 3.75 0.005\\ 3.80 0.017\\ 3.85 0.008\\ 3.90 0.006\\ 3.95 0.011\\
4.00 0.007\\ 4.05 0.009\\ 4.10 0.004\\ 4.15 0.006\\ 4.20 0.008\\ 4.25 0.005\\ 4.30 0.002\\ 4.35 0.005\\ 4.40 0.009\\ 4.45 0.007\\
4.50 0.017\\ 4.55 0.004\\ 4.60 0.018\\ 4.65 0.007\\ 4.70 0.020\\ 4.75 0.010\\ 4.80 0.019\\ 4.85 0.006\\ 4.90 0.014\\ 4.95 0.008\\
5.00 0.012\\ 5.05 0.005\\ 5.10 0.017\\ 5.15 0.009\\ 5.20 0.018\\ 5.25 0.004\\ 5.30 0.019\\ 5.35 0.008\\ 5.40 0.011\\ 5.45 0.003\\
5.50 0.009\\ 5.55 0.006\\ 5.60 0.012\\ 5.65 0.004\\ 5.70 0.001\\ 5.75 0.007\\ 5.80 0.012\\ 5.85 0.005\\ 5.90 0.010\\ 5.95 0.008\\
6.00 0.013\\ 6.05 0.004\\ 6.10 0.009\\ 6.15 0.015\\ 6.20 0.006\\ 6.25 0.011\\ 6.30 0.004\\ 6.35 0.008\\ 6.40 0.013\\ 6.45 0.005\\
6.50 0.010\\ 6.55 0.007\\ 6.60 0.019\\ 6.65 0.005\\ 6.70 0.016\\ 6.75 0.009\\ 6.80 0.014\\ 6.85 0.003\\ 6.90 0.011\\ 6.95 0.002\\
7.00 0.009\\ 7.05 0.004\\ 7.10 0.013\\ 7.15 0.006\\ 7.20 0.001\\ 7.25 0.010\\ 7.30 0.005\\ 7.35 0.012\\ 7.40 0.008\\ 7.45 0.016\\
7.50 0.006\\ 7.55 0.011\\ 7.60 0.003\\ 7.65 0.013\\ 7.70 0.007\\ 7.75 0.010\\ 7.80 0.004\\ 7.85 0.018\\ 7.90 0.009\\ 7.95 0.006\\
8.00 0.001\\ 8.05 0.012\\ 8.10 0.008\\ 8.15 0.013\\ 8.20 0.006\\ 8.25 0.011\\ 8.30 0.015\\ 8.35 0.007\\ 8.40 0.016\\ 8.45 0.009\\
8.50 0.004\\ 8.55 0.012\\ 8.60 0.007\\ 8.65 0.013\\ 8.70 0.005\\ 8.75 0.011\\ 8.80 0.008\\ 8.85 0.014\\ 8.90 0.006\\ 8.95 0.010\\
9.00 0.004\\ 9.05 0.012\\ 9.10 0.007\\ 9.15 0.013\\ 9.20 0.005\\ 9.25 0.016\\ 9.30 0.009\\ 9.35 0.003\\ 9.40 0.012\\ 9.45 0.006\\
9.50 0.014\\ 9.55 0.008\\ 9.60 0.011\\ 9.65 0.004\\ 9.70 0.015\\ 9.75 0.007\\ 9.80 0.019\\ 9.85 0.009\\ 9.90 0.013\\ 9.95 0.006\\
10.00 0.020\\ 10.05 0.011\\ 10.10 0.007\\ 10.15 0.013\\ 10.20 0.005\\ 10.25 0.009\\ 10.30 0.002\\ 10.35 0.001\\ 10.40 0.011\\ 10.45 0.004\\
10.50 0.016\\ 10.55 0.008\\ 10.60 0.012\\ 10.65 0.005\\ 10.70 0.010\\ 10.75 0.007\\ 10.80 0.013\\ 10.85 0.009\\ 10.90 0.006\\ 10.95 0.010\\
11.00 0.008\\ 11.05 0.003\\ 11.10 0.011\\ 11.15 0.006\\ 11.20 0.009\\ 11.25 0.004\\ 11.30 0.012\\ 11.35 0.007\\ 11.40 0.010\\ 11.45 0.005\\
11.50 0.009\\ 11.55 0.015\\ 11.60 0.008\\ 11.65 0.014\\ 11.70 0.002\\ 11.75 0.009\\ 11.80 0.006\\ 11.85 0.014\\ 11.90 0.004\\ 11.95 0.008\\
12.00 0.012\\
}\frecB

\pgfplotsset{
  panel/.style={
    scale only axis, anchor=north west,
    axis line style={framegray, line width=0.5pt},
    every tick/.style={framegray, line width=0.5pt},
    tick align=inside, major tick length=0.85mm, tick pos=both,
    ticklabel style={font=\fontsize{7}{8}\selectfont, text=framegray},
    /pgf/number format/assume math mode=true,
    xticklabel style={yshift=-0.7mm, /pgf/number format/1000 sep={}},
    yticklabel style={xshift=-0.3mm},
    label style={font=\fontsize{8}{9}\selectfont},
    ylabel={Amplitude},
    legend style={at={(1,1)}, anchor=north east, xshift=-2.4mm, yshift=-2.45mm,
      font=\fontsize{6.4}{7.5}\selectfont, draw=framegray, line width=0.4pt,
      inner xsep=0.45mm, inner ysep=0.4mm,
      nodes={inner xsep=0.45mm, inner ysep=0.4mm}, cells={anchor=west}},
    legend image code/.code={\draw[#1] (0mm,0mm) -- (5.4mm,0mm);},
    every axis plot/.append style={line width=0.5pt},
  },
  timepanel/.style={panel, width=8.51cm, height=2.63cm,
    xmin=0, xmax=2048, xtick={0,200,...,2000}},
  freqpanel/.style={panel, width=8.53cm, height=2.62cm,
    xmin=0, xmax=12, xtick={0,2,...,12}, scaled y ticks=false,
    yticklabel style={/pgf/number format/fixed, /pgf/number format/precision=2}},
  big/.style={ymin=-15, ymax=15, ytick={-10,0,10}},
  small/.style={ymin=-5, ymax=5, ytick={-5,0,5}},
  spec/.style={ymin=0, ymax=1.5, ytick={0,0.5,1,1.5}},
  ylab/.style={ylabel style={at={(axis description cs:#1,0.5)}, anchor=center}},
}

\begin{document}
\begin{tikzpicture}
\useasboundingbox (0cm,0cm) rectangle (19.6cm,-23.14cm);

% ---- group a ----
\begin{axis}[timepanel, big, ylab=-0.080, at={(0.82cm,-0.07cm)}]
\addplot[blue] table {\tnoisy};
\addlegendentry{Noisy signal}
\end{axis}
\begin{axis}[timepanel, big, ylab=-0.082, at={(0.82cm,-3.73cm)}]
\addplot[red] table {\tprofA};
\addlegendentry{Profile of the interference}
\end{axis}
\begin{axis}[timepanel, small, ylab=-0.068, at={(0.82cm,-7.39cm)},
  xlabel={Samples}, xlabel style={at={(axis description cs:0.5,-0.251)}, anchor=center}]
\addplot[black] table {\trecA};
\addlegendentry{Reconstructed signal}
\end{axis}

\begin{axis}[freqpanel, spec, ylab=-0.084, at={(10.90cm,-0.07cm)}]
\addplot[blue] table {\fnoisy};
\addlegendentry{Frequency spectrum of the noisy signal}
\end{axis}
\begin{axis}[freqpanel, spec, ylab=-0.084, at={(10.90cm,-3.73cm)}]
\addplot[red] table {\fprofA};
\addlegendentry{Frequency spectrum of the interference profile}
\end{axis}
\begin{axis}[freqpanel, ylab=-0.096, at={(10.90cm,-7.39cm)},
  ymin=0, ymax=0.06, ytick={0,0.02,0.04,0.06},
  xlabel={\seriffont\textit{f}/Hz},
  xlabel style={font=\seriffont\fontsize{9}{10}\selectfont, at={(axis description cs:0.5,-0.321)}, anchor=center}]
\addplot[black] table {\frecA};
\addlegendentry{Frequency spectrum of the reconstructed signal}
\end{axis}

% ---- group b ----
\begin{axis}[timepanel, big, width=8.52cm, height=2.62cm, ylab=-0.083, at={(0.92cm,-12.10cm)}]
\addplot[blue] table {\tnoisy};
\addlegendentry{Noisy signal}
\end{axis}
\begin{axis}[timepanel, big, width=8.52cm, height=2.62cm, ylab=-0.083, at={(0.92cm,-15.75cm)}]
\addplot[red] table {\tprofB};
\addlegendentry{Profile of the interference}
\end{axis}
\begin{axis}[timepanel, small, width=8.52cm, height=2.62cm, ylab=-0.069, at={(0.92cm,-19.41cm)},
  xlabel={Samples}, xlabel style={at={(axis description cs:0.5,-0.265)}, anchor=center}]
\addplot[black] table {\trecB};
\addlegendentry{Reconstructed signal}
\end{axis}

\begin{axis}[freqpanel, spec, ylab=-0.083, at={(11.00cm,-12.10cm)}]
\addplot[blue] table {\fnoisy};
\addlegendentry{Frequency spectrum of the noisy signal}
\end{axis}
\begin{axis}[freqpanel, spec, ylab=-0.084, at={(11.00cm,-15.75cm)}]
\addplot[red] table {\fprofB};
\addlegendentry{Frequency spectrum of the interference profile}
\end{axis}
\begin{axis}[freqpanel, ylab=-0.1, at={(11.00cm,-19.41cm)},
  ymin=0, ymax=0.03, ytick={0,0.01,0.02,0.03},
  xlabel={\seriffont\textit{f}/Hz},
  xlabel style={font=\seriffont\fontsize{9}{10}\selectfont, at={(axis description cs:0.5,-0.262)}, anchor=center}]
\addplot[black] table {\frecB};
\addlegendentry{Frequency spectrum of the reconstructed signal}
\end{axis}

\node[font=\seriffont\bfseries\fontsize{10}{12}\selectfont] at (9.99cm,-11.00cm) {a};
\node[font=\seriffont\bfseries\fontsize{10}{12}\selectfont] at (10.01cm,-22.98cm) {b};
\end{tikzpicture}
\end{document}
